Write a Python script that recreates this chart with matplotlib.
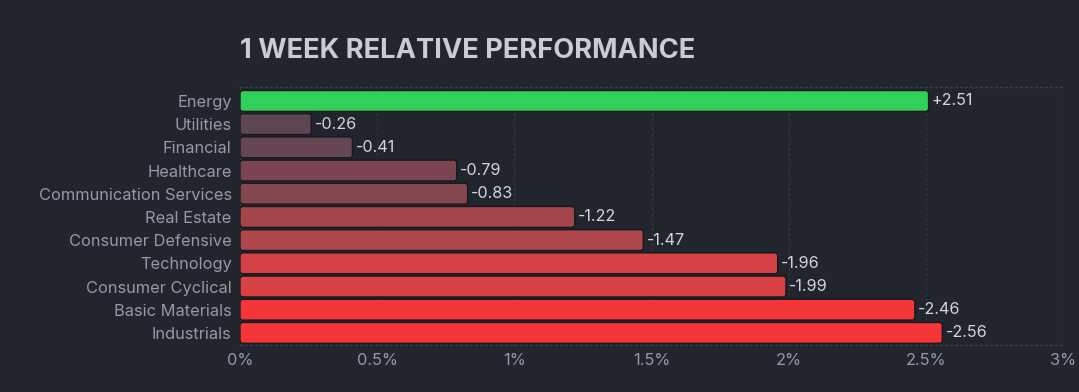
import matplotlib.pyplot as plt
from matplotlib.patches import FancyBboxPatch

sectors = ['Energy', 'Utilities', 'Financial', 'Healthcare', 'Communication Services',
           'Real Estate', 'Consumer Defensive', 'Technology', 'Consumer Cyclical',
           'Basic Materials', 'Industrials']
perf = [2.51, -0.26, -0.41, -0.79, -0.83, -1.22, -1.47, -1.96, -1.99, -2.46, -2.56]
colors = ['#30d05a', '#5e4552', '#654652', '#7c4552', '#84464f', '#a3464c',
          '#ae464c', '#d54144', '#d84244', '#f33638', '#f53538']
xticks = [0, 0.5, 1, 1.5, 2, 2.5, 3]
xticklabels = ['0%', '0.5%', '1%', '1.5%', '2%', '2.5%', '3%']

bg = '#21252e'
plt.rcParams['font.family'] = ['Inter', 'DejaVu Sans']

fig = plt.figure(figsize=(10.79, 3.92), dpi=100, facecolor=bg)
ax = fig.add_axes([0.2224, 0.12, 0.7628, 0.658], facecolor=bg)

ypos = list(range(len(sectors)))
bars = ax.barh(ypos, [abs(v) for v in perf], height=0.9, color=colors)

# swap plain bars for slightly rounded ones
px_x = 0.7628 * 1079 / 3.0
px_y = 0.658 * 392 / 11.12
for b, c in zip(bars, colors):
    x0, y0 = b.get_x(), b.get_y()
    w, h = b.get_width(), b.get_height()
    b.set_visible(False)
    p = FancyBboxPatch((x0, y0), w, h,
                       boxstyle='round,pad=0,rounding_size=%f' % (3 / px_x),
                       mutation_aspect=px_x / px_y,
                       facecolor=c, edgecolor='#17191e', linewidth=1.0, zorder=3)
    ax.add_patch(p)

for y, v in zip(ypos, perf):
    txt = ('+%.2f' % v) if v > 0 else ('%.2f' % v)
    ax.text(abs(v) + 0.012, y, txt, va='center', ha='left',
            color='#d3d5dd', fontsize=11.7, zorder=4)

ax.set_xlim(0, 3)
ax.set_ylim(10.52, -0.6)
ax.set_xticks(xticks)
ax.set_xticklabels(xticklabels)
ax.set_yticks(ypos)
ax.set_yticklabels(sectors)
ax.tick_params(axis='both', length=0, colors='#9599a8', labelsize=11.8)
ax.tick_params(axis='y', pad=6)
ax.tick_params(axis='x', pad=6)

ax.grid(axis='x', color='#3a3e49', linestyle=(0, (1.5, 2.5)), linewidth=0.9, zorder=0)
ax.set_axisbelow(True)
for s in ['left', 'right']:
    ax.spines[s].set_visible(False)
for s in ['top', 'bottom']:
    ax.spines[s].set_color('#3a3e49')
    ax.spines[s].set_linestyle((0, (1.5, 2.5)))
    ax.spines[s].set_linewidth(0.9)

fig.text(0.2224, 0.87, '1 WEEK RELATIVE PERFORMANCE', color='#c9cbd5',
         fontsize=19.7, fontweight='bold', ha='left', va='center')

fig.savefig('out.png', dpi=100, facecolor=bg)
